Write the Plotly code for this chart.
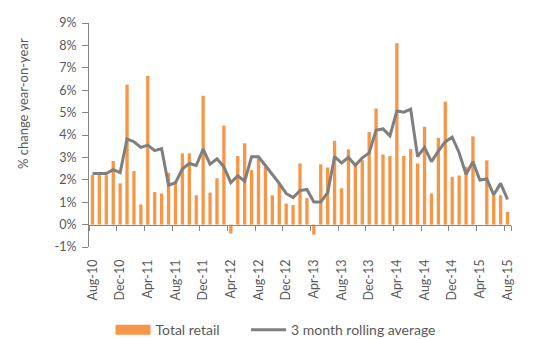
import pandas as pd
import plotly.graph_objects as go

# Monthly categories, Aug-10 .. Aug-15
months = list(pd.date_range("2010-08-01", periods=61, freq="MS").strftime("%b-%y"))

# Year-on-year % change in total retail sales (Apr-15 not reported)
total_retail = [
    2.21, 2.21, 2.21, 2.84, 1.84, 6.25, 2.39, 0.90, 6.64, 1.45,
    1.39, 2.31, 1.87, 3.18, 3.18, 1.31, 5.75, 1.43, 2.07, 4.42,
    -0.40, 3.06, 3.63, 2.43, 2.96, 2.58, 1.31, 1.84, 0.94, 0.87,
    2.73, 1.19, -0.45, 2.69, 2.55, 3.74, 1.62, 3.36, 2.63, 2.87,
    4.13, 5.18, 3.13, 3.06, 8.10, 3.06, 3.37, 2.73, 4.37, 1.39,
    3.87, 5.49, 2.13, 2.19, 2.58, 3.94, None, 2.87, 1.31, 1.31,
    0.57,
]

# 3 month rolling average
rolling_avg = [
    2.28, 2.28, 2.28, 2.45, 2.32, 3.82, 3.70, 3.45, 3.55, 3.30,
    3.39, 1.76, 1.87, 2.48, 2.73, 2.64, 3.37, 2.70, 2.94, 2.58,
    1.87, 2.18, 1.94, 3.03, 3.03, 2.64, 2.26, 1.84, 1.39, 1.21,
    1.52, 1.57, 1.01, 1.01, 1.43, 3.04, 2.75, 3.00, 2.65, 2.98,
    3.20, 4.22, 4.27, 3.96, 5.07, 5.02, 5.15, 3.03, 3.45, 2.81,
    3.28, 3.70, 3.90, 3.21, 2.25, 2.81, 1.99, 2.04, 1.33, 1.84,
    1.12,
]

y_ticks = [-1, 0, 1, 2, 3, 4, 5, 6, 7, 8, 9]
x_labels = months[::4]

ORANGE = "#F79646"
GREY = "#7F7F7F"
AXIS = "#868686"
TEXT = "#595959"
FONT = "Lato"
PAD = "\u00a0" * 6  # extra room between the two legend entries

fig = go.Figure()

fig.add_trace(go.Bar(
    x=months, y=total_retail, name="Total retail",
    marker=dict(color=ORANGE, line=dict(width=0)),
    width=0.48, showlegend=False, xaxis="x", yaxis="y",
))

# legend key for the bars, drawn as a wide block
fig.add_trace(go.Scatter(
    x=[None], y=[None], mode="lines", name="Total retail" + PAD,
    line=dict(color=ORANGE, width=10), xaxis="x", yaxis="y",
))

fig.add_trace(go.Scatter(
    x=months, y=rolling_avg, mode="lines", name="3 month rolling average",
    line=dict(color=GREY, width=3), xaxis="x2", yaxis="y",
))

fig.update_layout(
    width=549, height=339,
    margin=dict(l=89, r=38, t=23, b=92, autoexpand=False),
    paper_bgcolor="white", plot_bgcolor="white",
    font=dict(family=FONT, size=12, color=TEXT),
    xaxis=dict(
        type="category", categoryorder="array", categoryarray=months,
        range=[-0.5, 60.5],
        tickmode="array", tickvals=x_labels, ticktext=x_labels,
        tickangle=-90, ticks="", showline=False, showgrid=False,
        zeroline=False, ticklabelstandoff=9, automargin=False,
        tickfont=dict(family=FONT, size=12.5, color=TEXT),
    ),
    xaxis2=dict(
        type="category", categoryorder="array", categoryarray=months,
        matches="x", overlaying="x", anchor="free", position=0.1,
        tickmode="array", tickvals=x_labels, tickson="boundaries",
        ticks="outside", ticklen=5, tickcolor=AXIS, tickwidth=1,
        showticklabels=False, showline=True, linecolor=AXIS, linewidth=1,
        showgrid=False, zeroline=False,
    ),
    yaxis=dict(
        range=[-1, 9], tickmode="array", tickvals=y_ticks,
        ticktext=[f"{v}%" for v in y_ticks],
        showline=True, linecolor=AXIS, linewidth=1,
        ticks="outside", ticklen=6, tickcolor=AXIS,
        showgrid=False, zeroline=False, ticklabelstandoff=3,
        automargin=False,
        tickfont=dict(family=FONT, size=12.5, color=TEXT),
    ),
    legend=dict(
        orientation="h", x=0.051, xanchor="left", y=-0.30, yanchor="top",
        font=dict(family=FONT, size=14, color=TEXT),
        itemwidth=35, bgcolor="rgba(0,0,0,0)",
    ),
    annotations=[dict(
        text="% change year-on-year", textangle=-90,
        xref="paper", yref="paper", x=-0.158, y=0.64,
        xanchor="center", yanchor="middle",
        showarrow=False, font=dict(family=FONT, size=13, color=TEXT),
    )],
)

fig.write_html("out.html")
